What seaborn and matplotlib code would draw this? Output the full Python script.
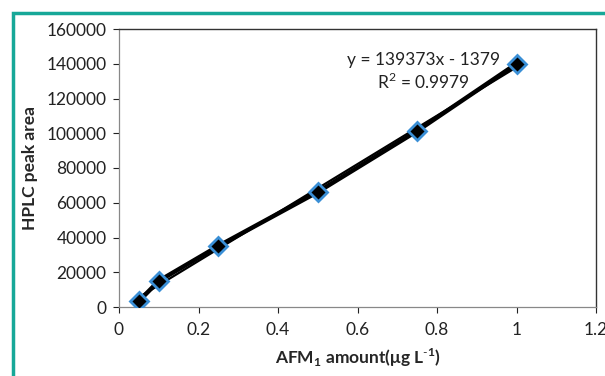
"""
AFM1 calibration curve: HPLC peak area vs amount.
"""

import matplotlib
matplotlib.use("Agg")
import matplotlib.pyplot as plt
import numpy as np
import pandas as pd
import seaborn as sns
from matplotlib.patches import Rectangle

# data
amount = [0.05, 0.1, 0.25, 0.5, 0.75, 1.0]
peak_area = [3400, 15000, 35100, 66200, 101300, 140000]

# trendline as printed on the chart
slope = 139373
intercept = -1379
r2 = 0.9979

x_ticks = [0, 0.2, 0.4, 0.6, 0.8, 1.0, 1.2]
x_ticklabels = ["0", "0.2", "0.4", "0.6", "0.8", "1", "1.2"]
y_ticks = list(range(0, 160001, 20000))

sns.set_theme(style="white")
plt.rcParams["font.family"] = ["Lato", "DejaVu Sans"]
plt.rcParams["mathtext.fontset"] = "custom"
plt.rcParams["mathtext.rm"] = "Lato"
plt.rcParams["mathtext.bf"] = "Lato:bold"

FS = 12.5

df = pd.DataFrame({"amount": amount, "area": peak_area})
trend = pd.DataFrame({"amount": [amount[0], amount[-1]]})
trend["area"] = slope * trend["amount"] + intercept

fig = plt.figure(figsize=(6.05, 3.76), dpi=100)
ax = fig.add_axes([119 / 605, 1 - 307 / 376, (596 - 119) / 605, (307 - 29) / 376])

sns.lineplot(data=trend, x="amount", y="area", color="black", lw=1.6, ax=ax)
sns.lineplot(data=df, x="amount", y="area", color="black", lw=3.2, ax=ax)
ax.plot(df["amount"], df["area"], ls="none", marker="D", ms=9.5,
        mfc="black", mec="#3a8fd6", mew=2.0, zorder=5)

ax.set_xlim(0, 1.2)
ax.set_ylim(0, 160000)
ax.set_xticks(x_ticks)
ax.set_xticklabels(x_ticklabels)
ax.set_yticks(y_ticks)
ax.set_yticklabels([str(v) for v in y_ticks])
ax.tick_params(axis="both", labelsize=FS, colors="#222222", length=4,
               width=0.8, direction="out", bottom=True, left=True)
ax.tick_params(axis="x", pad=7)
ax.tick_params(axis="y", pad=5)
for side in ["left", "bottom"]:
    ax.spines[side].set_color("#888888")
    ax.spines[side].set_linewidth(0.9)
for side in ["top", "right"]:
    ax.spines[side].set_color("#333333")
    ax.spines[side].set_linewidth(1.0)

ax.set_xlabel(r"AFM$_\mathbf{1}$ amount(μg L$^\mathbf{{\text{-}}1}$)", fontsize=FS,
              fontweight="bold", labelpad=6)
ax.set_ylabel("HPLC peak area", fontsize=FS, fontweight="bold", labelpad=6)

ax.text(0.765, 142200, f"y = {slope}x - {abs(intercept)}", ha="center",
        va="center", fontsize=FS, color="#222222")
ax.text(0.765, 129500, f"R$^2$ = {r2}", ha="center", va="center",
        fontsize=FS, color="#222222")

# teal frame around the figure
fig.patches.append(Rectangle((13 / 605, -0.1), 1.2, 1 - 13 / 376 + 0.1,
                             transform=fig.transFigure, fill=False,
                             ec="#17a898", lw=2.5))

fig.savefig("out.png", dpi=100)
